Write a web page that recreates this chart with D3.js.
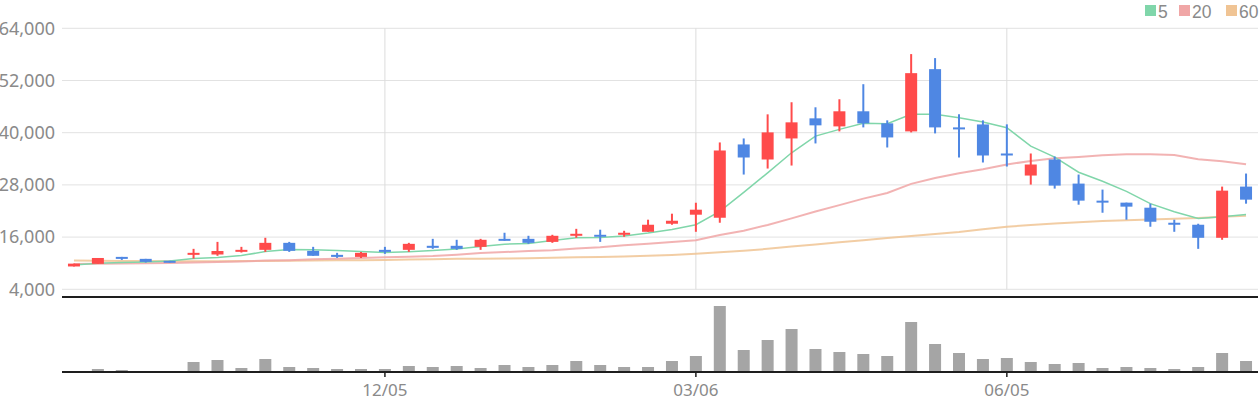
<!DOCTYPE html>
<html>
<head>
<meta charset="utf-8">
<script src="https://cdn.jsdelivr.net/npm/d3@7"></script>
<style>
  body { margin: 0; background: #fff; }
  text { font-family: "Noto Sans", sans-serif; }
</style>
</head>
<body>
<script>
// weekly candles
const dates = [
  "2022-09-05","2022-09-12","2022-09-19","2022-09-26","2022-10-03","2022-10-10","2022-10-17","2022-10-24","2022-10-31",
  "2022-11-07","2022-11-14","2022-11-21","2022-11-28","2022-12-05","2022-12-12","2022-12-19","2022-12-26",
  "2023-01-02","2023-01-09","2023-01-16","2023-01-23","2023-01-30","2023-02-06","2023-02-13","2023-02-20","2023-02-27",
  "2023-03-06","2023-03-13","2023-03-20","2023-03-27","2023-04-03","2023-04-10","2023-04-17","2023-04-24",
  "2023-05-01","2023-05-08","2023-05-15","2023-05-22","2023-05-29","2023-06-05","2023-06-12","2023-06-19","2023-06-26",
  "2023-07-03","2023-07-10","2023-07-17","2023-07-24","2023-07-31","2023-08-07","2023-08-14"
];
const open = [9250,9850,11450,11000,10550,12000,12000,12680,13070,14680,12840,11920,11450,13070,13070,14000,14000,
  13760,15600,15600,14900,16300,16530,16530,17220,19070,21150,20450,37300,33840,38680,43300,41450,44920,42150,
  40300,54610,41220,41900,35220,30150,33840,28300,24380,23920,22760,19300,18840,15840,27610];
const high = [9900,11200,11450,11000,10550,13300,14900,13760,15840,14900,13760,12380,12600,13760,14680,15600,15380,
  15600,17000,16300,16530,17900,17700,17450,20000,21380,23900,37760,38680,44220,47000,45840,47690,51150,42840,
  58070,57150,44220,42840,41920,35220,34530,30380,26920,23920,23680,20000,19070,27610,30610];
const low = [9250,9850,10750,10150,10150,11060,11700,12450,12600,12600,11700,11220,11220,12150,12600,13300,13070,
  13070,15150,14450,14680,15840,14900,16070,17220,18840,17220,19300,30380,31760,32450,37530,40300,41220,36600,
  40070,39840,34300,33150,32220,28070,27150,23450,21600,20000,18380,17220,13300,15380,23680];
const close = [9900,11200,11000,10300,10150,12380,12800,13070,14680,12840,11700,11450,12380,12600,14450,13530,13300,
  15380,15150,14680,16300,16760,16070,17000,18840,19760,22300,35910,34300,40070,42380,41690,44920,42150,38910,
  53690,41220,40760,34760,34760,32690,27840,24380,23920,23000,19530,18840,15840,26680,24610];
const volume = [0,200,100,0,0,900,1100,300,1200,400,300,200,200,200,500,400,500,
  300,600,400,600,1000,600,400,400,1000,1500,6500,2100,3100,4200,2200,1900,1700,1500,
  4900,2700,1800,1200,1300,900,700,800,300,400,300,200,400,1800,1000];
const ma5 = [9600,10000,10150,10300,10530,11100,11300,11750,12680,13150,13100,12900,12680,12450,12650,12900,13250,
  13830,14380,14520,15210,15840,15900,16230,16920,17750,18840,21900,26300,30770,35380,39220,40760,42150,42070,
  44220,44220,43450,42450,41150,36910,34370,30910,28830,26520,23700,21840,20300,20680,21220];
const ma20 = [9840,9900,9950,10000,10050,10150,10250,10400,10600,10700,10900,11000,11200,11350,11500,11650,11950,
  12350,12550,12800,13000,13400,13650,14100,14450,14900,15300,16500,17450,18800,20300,21900,23350,24850,26150,
  28230,29600,30700,31600,32700,33500,34100,34400,34800,35050,35050,34850,33900,33450,32750];
const ma60 = [10600,10550,10500,10480,10450,10450,10450,10500,10500,10550,10600,10650,10700,10750,10830,10900,11000,
  11020,11060,11150,11250,11380,11450,11550,11700,11900,12200,12500,12840,13300,13830,14300,14800,15300,15800,
  16250,16700,17150,17800,18380,18800,19140,19420,19690,19900,20070,20200,20380,20650,20910];
const priceTicks = [4000,16000,28000,40000,52000,64000];
const dateTicks = ["2022-12-05","2023-03-06","2023-06-05"];
const maNames = ["5","20","60"];
const maColors = ["#80d6aa","#f0a6a6","#f0c494"];

const W = 1260, H = 400;
const left = 62, right = 1258;
const pTop = 28.3, pBot = 289.3;
const vTop = 297, vBot = 371;

const svg = d3.select("body").append("svg")
  .attr("width", W).attr("height", H);

const x = d3.scaleBand().domain(dates).range([left, right]).padding(0);
const cx = d => x(d) + x.bandwidth() / 2;
const y = d3.scaleLinear().domain([4000, 64000]).range([pBot, pTop]);
const yv = d3.scaleLinear().domain([0, 7400]).range([vBot, vTop]);

// grid
svg.append("g").selectAll("line").data(priceTicks).join("line")
  .attr("x1", left).attr("x2", right)
  .attr("y1", d => y(d)).attr("y2", d => y(d))
  .attr("stroke", "#e2e2e2").attr("stroke-width", 1);
svg.append("g").selectAll("line").data(dateTicks).join("line")
  .attr("x1", d => cx(d)).attr("x2", d => cx(d))
  .attr("y1", pTop).attr("y2", pBot)
  .attr("stroke", "#dcdcdc").attr("stroke-width", 1);

// y labels
svg.append("g").selectAll("text").data(priceTicks).join("text")
  .attr("x", 55).attr("y", d => y(d)).attr("dy", "0.35em")
  .attr("text-anchor", "end").attr("fill", "#8a8a8a").attr("font-size", 18)
  .text(d => d3.format(",")(d));

// moving averages
const line = d3.line().x((d, i) => cx(dates[i])).y(d => y(d));
[ma60, ma20, ma5].forEach((s, k) => {
  const idx = 2 - k;
  svg.append("path").datum(s)
    .attr("fill", "none")
    .attr("stroke", maColors[idx])
    .attr("stroke-width", idx === 0 ? 1.5 : 2)
    .attr("stroke-opacity", idx === 0 ? 1 : 0.85)
    .attr("d", line);
});

// candles
const red = "#ff4b4b", blue = "#4f87e3";
const cw = 12;
const cg = svg.append("g");
dates.forEach((d, i) => {
  const col = close[i] >= open[i] ? red : blue;
  cg.append("line")
    .attr("x1", cx(d)).attr("x2", cx(d))
    .attr("y1", y(high[i])).attr("y2", y(low[i]))
    .attr("stroke", col).attr("stroke-width", 2);
  const top = y(Math.max(open[i], close[i]));
  const bot = y(Math.min(open[i], close[i]));
  cg.append("rect")
    .attr("x", cx(d) - cw / 2).attr("width", cw)
    .attr("y", top).attr("height", Math.max(2, bot - top))
    .attr("fill", col);
});

// volume
svg.append("g").selectAll("rect").data(volume).join("rect")
  .attr("x", (v, i) => cx(dates[i]) - cw / 2).attr("width", cw)
  .attr("y", v => yv(v)).attr("height", v => vBot - yv(v))
  .attr("fill", "#a5a5a5");

// panel borders
svg.append("line").attr("x1", left).attr("x2", right).attr("y1", vTop).attr("y2", vTop)
  .attr("stroke", "#1e1e1e").attr("stroke-width", 2);
svg.append("line").attr("x1", left).attr("x2", right).attr("y1", vBot + 1).attr("y2", vBot + 1)
  .attr("stroke", "#1e1e1e").attr("stroke-width", 2);

// x axis ticks + labels
const fmt = d3.timeFormat("%m/%d");
const parse = d3.timeParse("%Y-%m-%d");
const xg = svg.append("g");
xg.selectAll("line").data(dateTicks).join("line")
  .attr("x1", d => cx(d)).attr("x2", d => cx(d))
  .attr("y1", vBot + 1).attr("y2", vBot + 6)
  .attr("stroke", "#1e1e1e").attr("stroke-width", 1.5);
xg.selectAll("text").data(dateTicks).join("text")
  .attr("x", d => cx(d)).attr("y", 390).attr("dy", "0.35em")
  .attr("text-anchor", "middle").attr("fill", "#8a8a8a").attr("font-size", 17)
  .text(d => fmt(parse(d)));

// legend
const lg = svg.append("g");
const legX = [1145, 1179, 1226];
maNames.forEach((n, i) => {
  lg.append("rect").attr("x", legX[i]).attr("y", 5).attr("width", 11).attr("height", 11)
    .attr("fill", maColors[i]);
  lg.append("text").attr("x", legX[i] + 13).attr("y", 17.5)
    .style("font-family", "'Liberation Sans', Arial, sans-serif")
    .attr("fill", "#8a8a8a").attr("font-size", 17.5).text(n);
});
</script>
</body>
</html>
